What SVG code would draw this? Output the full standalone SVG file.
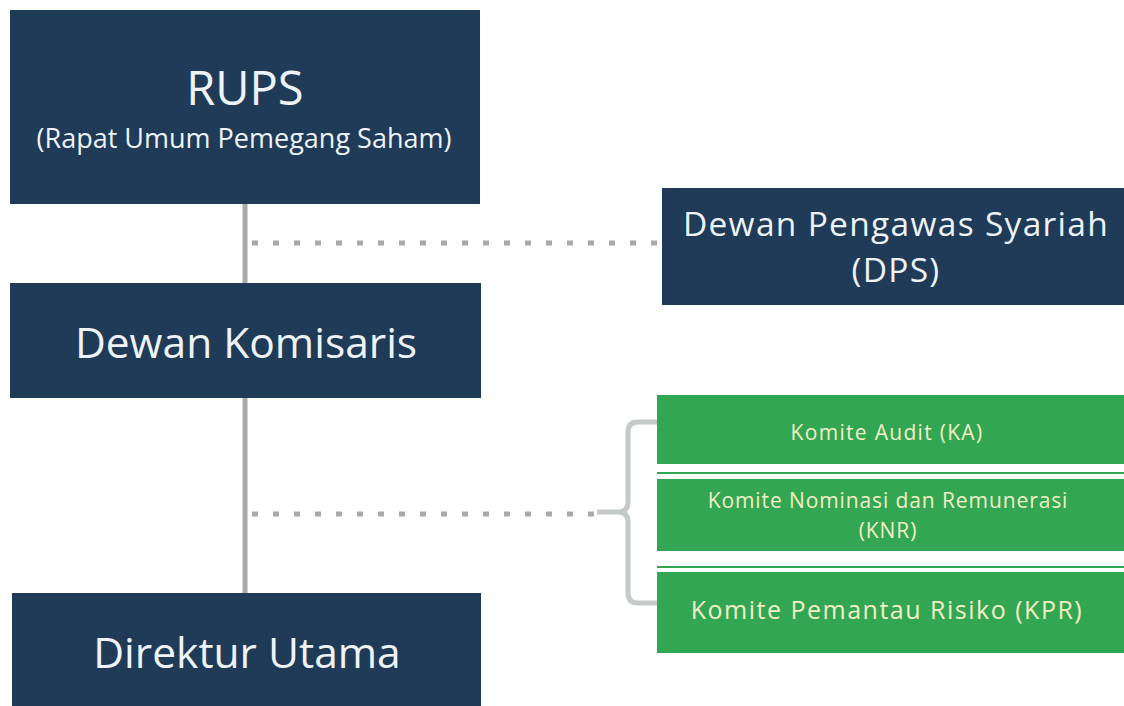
<svg xmlns="http://www.w3.org/2000/svg" width="1124" height="706" viewBox="0 0 1124 706">
<style>
.navy{fill:#1f3b57}
.green{fill:#32a652}
.wt{fill:#eef3f8;font-family:"Open Sans",sans-serif;text-anchor:middle}
.gt{fill:#f1efc6;font-family:"Open Sans",sans-serif;text-anchor:middle}
.solid{stroke:#aaaaaa;stroke-width:5;fill:none}
.dot{stroke:#a9a9a9;stroke-width:5;fill:none;stroke-dasharray:6 15}
.brace{stroke:#c6c9c9;stroke-width:5;fill:none}
</style>
<rect width="1124" height="706" fill="#ffffff"/>
<g id="connectors">
<line class="solid" x1="245" y1="200" x2="245" y2="596"/>
<line class="dot" x1="252" y1="243" x2="662" y2="243"/>
<line class="dot" x1="252" y1="514" x2="597" y2="514"/>
<path class="brace" d="M659,422 H638 Q628,422 628,432 V502 Q628,512 618,512 H597 M618,512 Q628,512 628,522 V593 Q628,603 638,603 H659"/>
</g>
<g id="rups">
<rect class="navy" x="10" y="10" width="470" height="194"/>
<text class="wt" x="245" y="105" font-size="47">RUPS</text>
<text class="wt" x="244" y="148" font-size="27">(Rapat Umum Pemegang Saham)</text>
</g>
<g id="dewan-komisaris">
<rect class="navy" x="10" y="283" width="471" height="115"/>
<text class="wt" x="246" y="358" font-size="42.5">Dewan Komisaris</text>
</g>
<g id="direktur-utama">
<rect class="navy" x="12" y="593" width="469" height="113"/>
<text class="wt" x="247" y="668" font-size="42.5">Direktur Utama</text>
</g>
<g id="dps">
<rect class="navy" x="662" y="188" width="462" height="117"/>
<text class="wt" x="896" y="236" font-size="33.5" letter-spacing="1.3">Dewan Pengawas Syariah</text>
<text class="wt" x="896" y="282" font-size="33.5" letter-spacing="1.3">(DPS)</text>
</g>
<g id="komite-audit">
<rect class="green" x="657" y="395" width="467" height="69"/>
<rect class="green" x="657" y="472" width="467" height="2"/>
<text class="gt" x="887" y="440" font-size="21" letter-spacing="1.3">Komite Audit (KA)</text>
</g>
<g id="komite-knr">
<rect class="green" x="657" y="479" width="467" height="72"/>
<rect class="green" x="657" y="566" width="467" height="2"/>
<text class="gt" x="888" y="508" font-size="21" letter-spacing="0.9">Komite Nominasi dan Remunerasi</text>
<text class="gt" x="888" y="538" font-size="21" letter-spacing="0.9">(KNR)</text>
</g>
<g id="komite-kpr">
<rect class="green" x="657" y="572" width="467" height="81"/>
<text class="gt" x="887" y="619" font-size="25" letter-spacing="1.5">Komite Pemantau Risiko (KPR)</text>
</g>
</svg>
